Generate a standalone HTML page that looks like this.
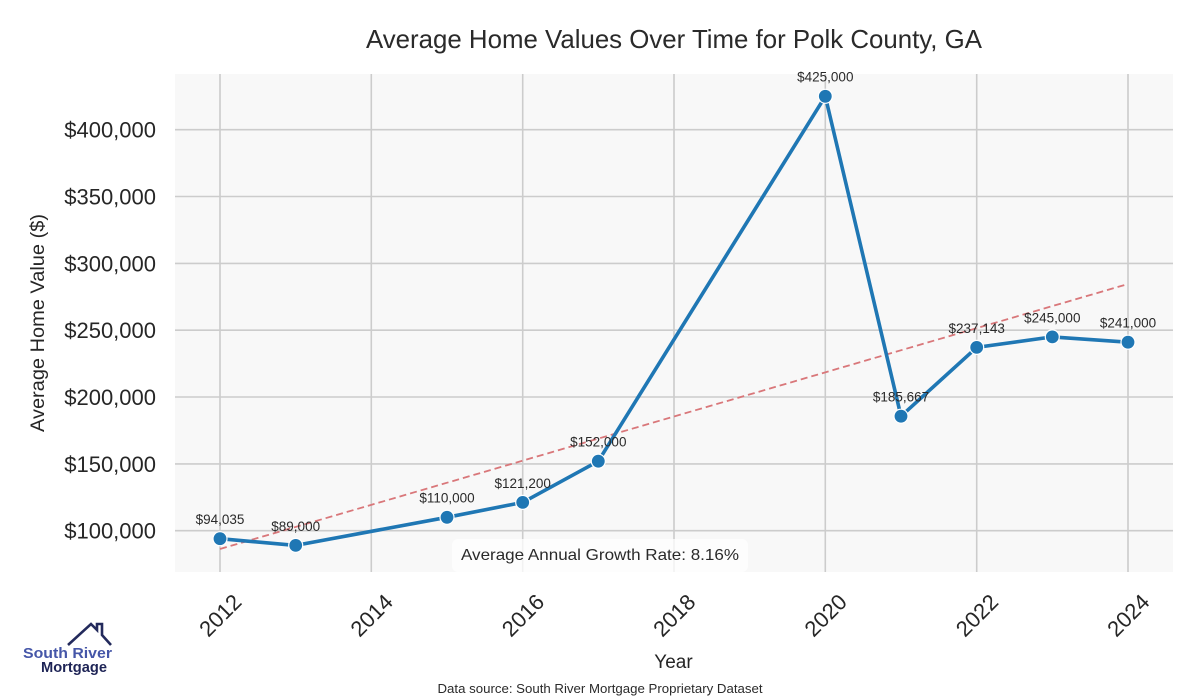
<!DOCTYPE html>
<html>
<head>
<meta charset="utf-8">
<style>
html,body{margin:0;padding:0;background:#fff;}
svg{display:block;}
text{font-family:"Liberation Sans",Arial,sans-serif;}
</style>
</head>
<body>
<svg width="1200" height="700" viewBox="0 0 1200 700" xmlns="http://www.w3.org/2000/svg">
  <rect x="0" y="0" width="1200" height="700" fill="#ffffff"/>
  <!-- title -->
  <text x="366" y="48" font-size="26" fill="#2a2a2a" textLength="616" lengthAdjust="spacingAndGlyphs">Average Home Values Over Time for Polk County, GA</text>

  <!-- plot area -->
  <rect x="175" y="74" width="998" height="498" fill="#f8f8f8"/>
  <g stroke="#cccccc" stroke-width="1.6">
    <!-- vertical grid -->
    <line x1="220" y1="74" x2="220" y2="572"/>
    <line x1="371.3" y1="74" x2="371.3" y2="572"/>
    <line x1="522.7" y1="74" x2="522.7" y2="572"/>
    <line x1="674" y1="74" x2="674" y2="572"/>
    <line x1="825.3" y1="74" x2="825.3" y2="572"/>
    <line x1="976.7" y1="74" x2="976.7" y2="572"/>
    <line x1="1128" y1="74" x2="1128" y2="572"/>
    <!-- horizontal grid -->
    <line x1="175" y1="530.7" x2="1173" y2="530.7"/>
    <line x1="175" y1="463.9" x2="1173" y2="463.9"/>
    <line x1="175" y1="397.0" x2="1173" y2="397.0"/>
    <line x1="175" y1="330.2" x2="1173" y2="330.2"/>
    <line x1="175" y1="263.4" x2="1173" y2="263.4"/>
    <line x1="175" y1="196.5" x2="1173" y2="196.5"/>
    <line x1="175" y1="129.7" x2="1173" y2="129.7"/>
  </g>

  <!-- y tick labels -->
  <g font-size="22" fill="#262626" text-anchor="end">
    <text x="156" y="538.7">$100,000</text>
    <text x="156" y="471.9">$150,000</text>
    <text x="156" y="405.0">$200,000</text>
    <text x="156" y="338.2">$250,000</text>
    <text x="156" y="271.4">$300,000</text>
    <text x="156" y="204.5">$350,000</text>
    <text x="156" y="137.7">$400,000</text>
  </g>

  <!-- y axis label -->
  <text transform="translate(44,323) rotate(-90)" font-size="19.5" fill="#262626" text-anchor="middle" textLength="218" lengthAdjust="spacingAndGlyphs">Average Home Value ($)</text>

  <!-- x tick labels -->
  <g font-size="22" fill="#262626" text-anchor="middle">
    <text transform="translate(220,615) rotate(-45)" dy="8">2012</text>
    <text transform="translate(371.3,615) rotate(-45)" dy="8">2014</text>
    <text transform="translate(522.7,615) rotate(-45)" dy="8">2016</text>
    <text transform="translate(674,615) rotate(-45)" dy="8">2018</text>
    <text transform="translate(825.3,615) rotate(-45)" dy="8">2020</text>
    <text transform="translate(976.7,615) rotate(-45)" dy="8">2022</text>
    <text transform="translate(1128,615) rotate(-45)" dy="8">2024</text>
  </g>

  <!-- x axis label -->
  <text x="673.5" y="668" font-size="19" fill="#262626" text-anchor="middle">Year</text>

  <!-- trend line -->
  <line x1="220" y1="549" x2="1128" y2="284" stroke="#d9777a" stroke-width="1.8" stroke-dasharray="7,4"/>

  <!-- data line -->
  <polyline fill="none" stroke="#1f77b4" stroke-width="3.6" stroke-linejoin="round"
    points="220,538.7 295.7,545.4 447,517.3 522.7,502.4 598.3,461.2 825.3,96.3 901,416.2 976.7,347.4 1052.3,336.9 1128,342.2"/>
  <g fill="#1f77b4" stroke="#ffffff" stroke-width="1.2">
    <circle cx="220" cy="538.7" r="7"/>
    <circle cx="295.7" cy="545.4" r="7"/>
    <circle cx="447" cy="517.3" r="7"/>
    <circle cx="522.7" cy="502.4" r="7"/>
    <circle cx="598.3" cy="461.2" r="7"/>
    <circle cx="825.3" cy="96.3" r="7"/>
    <circle cx="901" cy="416.2" r="7"/>
    <circle cx="976.7" cy="347.4" r="7"/>
    <circle cx="1052.3" cy="336.9" r="7"/>
    <circle cx="1128" cy="342.2" r="7"/>
  </g>

  <!-- annotations -->
  <g font-size="13.5" fill="#2a2a2a" text-anchor="middle">
    <text x="220" y="524.1">$94,035</text>
    <text x="295.7" y="530.8">$89,000</text>
    <text x="447" y="502.7">$110,000</text>
    <text x="522.7" y="487.8">$121,200</text>
    <text x="598.3" y="446.6">$152,000</text>
    <text x="825.3" y="81.7">$425,000</text>
    <text x="901" y="401.6">$185,667</text>
    <text x="976.7" y="332.8">$237,143</text>
    <text x="1052.3" y="322.3">$245,000</text>
    <text x="1128" y="327.6">$241,000</text>
  </g>

  <!-- growth rate box -->
  <rect x="452" y="539" width="296" height="33" rx="6" ry="6" fill="#ffffff" fill-opacity="0.75"/>
  <text x="461" y="560" font-size="16" fill="#2a2a2a" textLength="278" lengthAdjust="spacingAndGlyphs">Average Annual Growth Rate: 8.16%</text>

  <!-- data source -->
  <text x="600" y="693" font-size="13" fill="#2a2a2a" text-anchor="middle" textLength="325" lengthAdjust="spacingAndGlyphs">Data source: South River Mortgage Proprietary Dataset</text>

  <!-- logo -->
  <polyline fill="none" stroke="#232a5c" stroke-width="2.6" stroke-linejoin="miter"
    points="68,645 91,624 97,630 97,624 102,624 102,635 111,645"/>
  <text x="23" y="658" font-size="15" font-weight="bold" fill="#4556a8" textLength="89" lengthAdjust="spacingAndGlyphs">South River</text>
  <text x="41" y="672" font-size="15" font-weight="bold" fill="#1e2456" textLength="66" lengthAdjust="spacingAndGlyphs">Mortgage</text>
</svg>
</body>
</html>
